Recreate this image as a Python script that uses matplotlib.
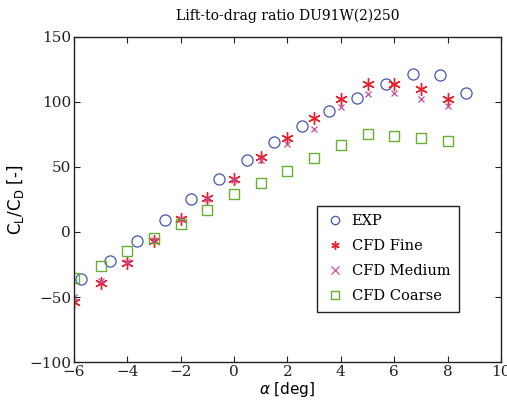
import matplotlib
matplotlib.use("Agg")
import matplotlib.pyplot as plt

# Lift-to-drag ratio of DU91W(2)250, experiment vs. three CFD grids
exp_alpha = [-5.75, -4.65, -3.65, -2.6, -1.6, -0.55, 0.5, 1.5, 2.55, 3.55, 4.6, 5.7, 6.7, 7.7, 8.7]
exp_ld = [-36, -22, -7, 9, 25, 41, 55, 69, 81.5, 93, 103, 114, 121.5, 121, 107]

cfd_alpha = [-6, -5, -4, -3, -2, -1, 0, 1, 2, 3, 4, 5, 6, 7, 8]
fine_ld = [-54, -39, -24, -7, 10, 26, 41, 58, 72, 88, 102, 114, 114, 110, 102]
medium_ld = [-50, -38, -23, -6, 10, 25, 40, 55, 68, 79, 96, 106, 107, 102, 97]
coarse_ld = [-35, -26, -15, -5, 6, 17, 29, 38, 47, 57, 67, 75, 74, 72, 70]

serif = "DejaVu Serif"
sans = "DejaVu Sans"

fig = plt.figure(figsize=(5.07, 4.05), dpi=100)
ax = fig.add_axes([0.146, 0.106, 0.842, 0.803])

ax.plot(exp_alpha, exp_ld, linestyle="none", marker="o", markersize=8,
        markerfacecolor="none", markeredgecolor="#4455b0", markeredgewidth=0.9, label="EXP")
ax.plot(cfd_alpha, fine_ld, linestyle="none", marker=(6, 2, 0), markersize=9,
        color="#e8202a", markeredgewidth=1.0, label="CFD Fine")
ax.plot(cfd_alpha, medium_ld, linestyle="none", marker="x", markersize=5,
        color="#c84aa0", markeredgewidth=0.9, label="CFD Medium")
ax.plot(cfd_alpha, coarse_ld, linestyle="none", marker="s", markersize=6.5,
        markerfacecolor="none", markeredgecolor="#66b030", markeredgewidth=1.0, label="CFD Coarse")

ax.set_xlim(-6, 10)
ax.set_ylim(-100, 150)
ax.set_xticks(range(-6, 11, 2))
ax.set_yticks(range(-100, 151, 50))

ax.tick_params(direction="in", top=True, right=True, length=4, width=0.8,
               pad=2, labelsize=11, colors="#222222")
for lab in ax.get_xticklabels() + ax.get_yticklabels():
    lab.set_family(serif)
for s in ax.spines.values():
    s.set_linewidth(1.0)
    s.set_color("#222222")

ax.set_xlabel(r"$\alpha$ [deg]", family=sans, fontsize=11, labelpad=1)
ax.set_ylabel(r"C$_\mathrm{L}$/C$_\mathrm{D}$ [-]", family=sans, fontsize=12, labelpad=2)
ax.set_title("Lift-to-drag ratio DU91W(2)250", family=serif, fontsize=10, pad=12)

leg = ax.legend(loc="lower right", bbox_to_anchor=(0.902, 0.154), borderaxespad=0,
                prop={"family": serif, "size": 10.5}, fancybox=False,
                edgecolor="#222222", framealpha=1, handlelength=1.3,
                handletextpad=0.5, borderpad=0.6, labelspacing=0.75)
leg.get_frame().set_linewidth(1.0)
for h in leg.legend_handles:
    h.set_markersize(6)

fig.savefig("out.png", dpi=100)
